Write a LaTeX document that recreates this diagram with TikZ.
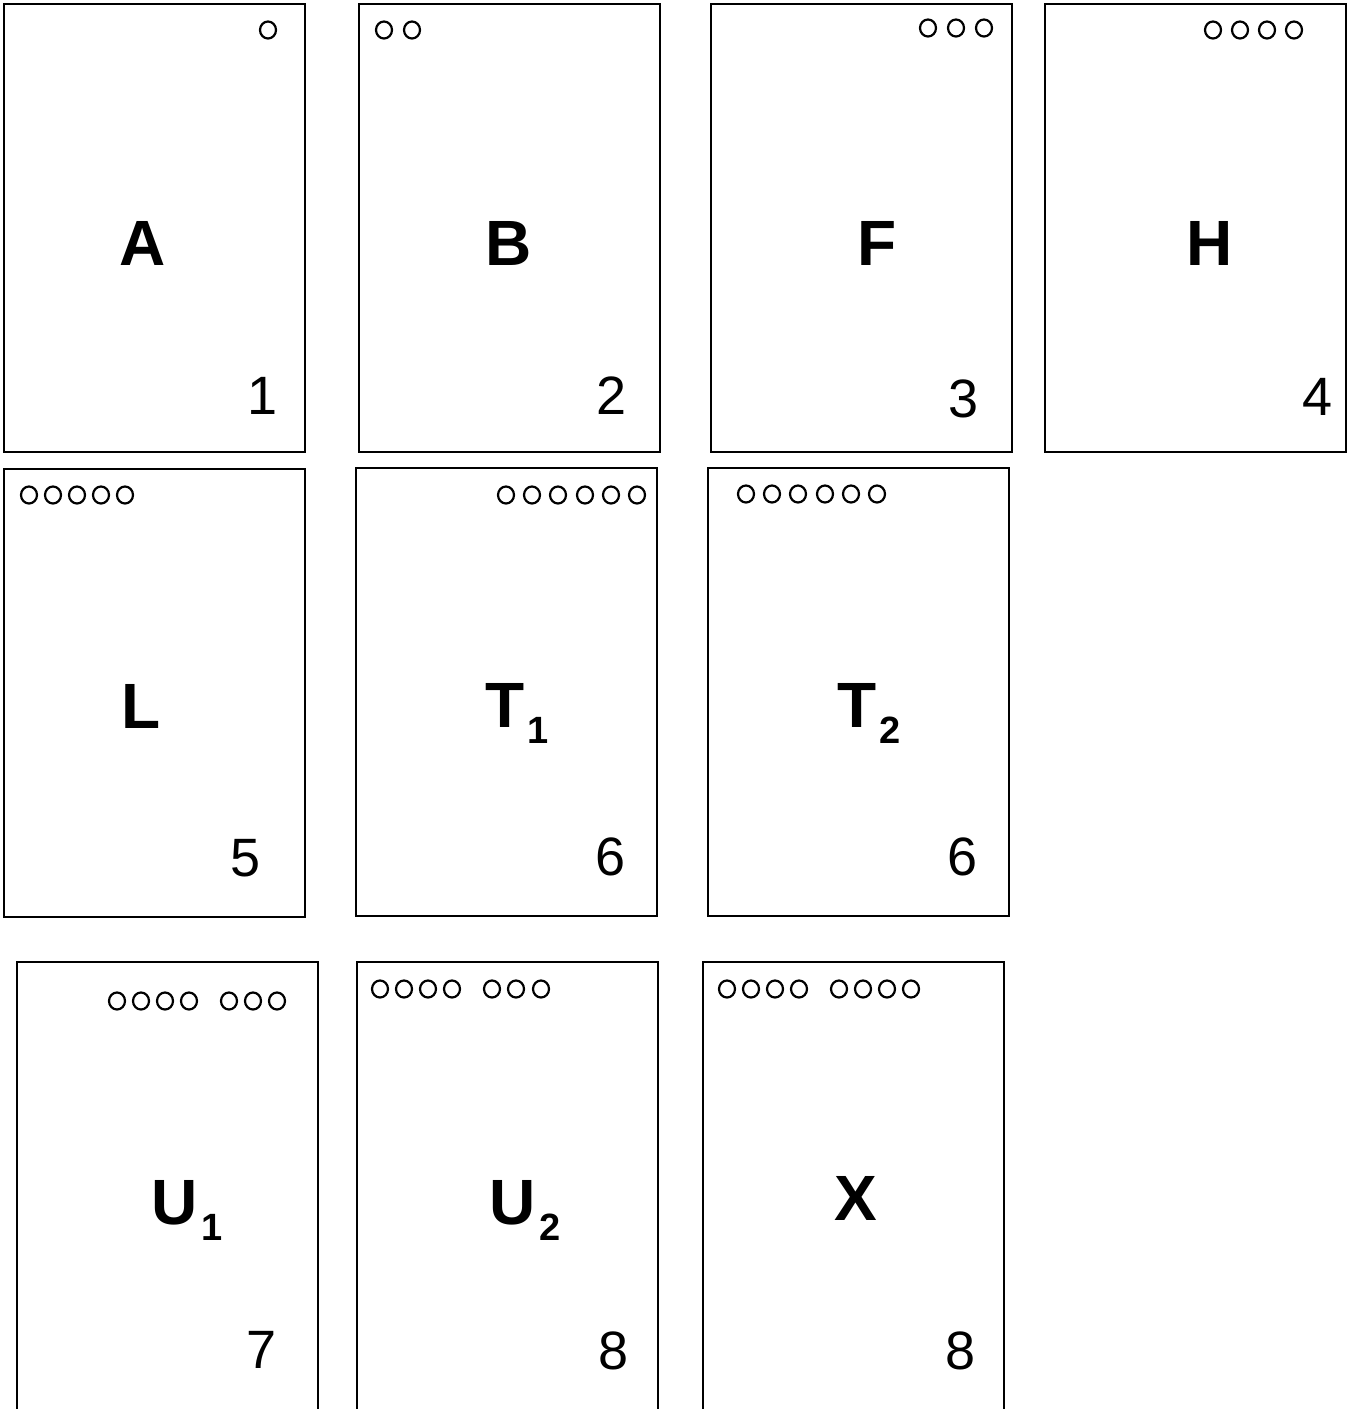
\documentclass[tikz,border=0pt]{standalone}
\usepackage{fontspec}
\setmainfont{Liberation Sans}
\newcommand{\mysubs}[1]{\kern3pt\raisebox{-0.26em}{\fontsize{38}{38}\selectfont #1}}
\newcommand{\myholes}[2]{\foreach \hx in {#1} {\draw[hole] (\hx,#2) ellipse [x radius=8, y radius=8.5];}}
\begin{document}
\begin{tikzpicture}[x=1pt,y=-1pt,
  card/.style={draw=black,line width=2pt,minimum width=301pt,minimum height=448pt,inner sep=0pt,outer sep=0pt},
  hole/.style={draw=black,line width=2.2pt},
  big/.style={anchor=base,inner sep=0pt,font=\fontsize{64}{64}\selectfont\bfseries},
  num/.style={anchor=base,inner sep=0pt,font=\fontsize{54}{54}\selectfont}]
\useasboundingbox (0,0) rectangle (1351,1409);
\clip (0,0) rectangle (1351,1409);
% row 1
\node[card] (cA) at (154.5,228) {};
\node[card] (cB) at (509.5,228) {};
\node[card] (cF) at (861.5,228) {};
\node[card] (cH) at (1195,228) {};
% row 2
\node[card] (cL) at (154.5,693) {};
\node[card] (cT1) at (506.5,691.5) {};
\node[card] (cT2) at (858.5,691.5) {};
% row 3
\node[card] (cU1) at (167.5,1186) {};
\node[card] (cU2) at (507,1186) {};
\node[card] (cX) at (853.5,1186) {};
% holes
\myholes{268}{30}
\myholes{384,412}{30}
\myholes{928,956,984}{28}
\myholes{1213,1240,1267,1294}{30}
\myholes{29,53,77,101,125}{495}
\myholes{506,532,558,585,611,637}{495}
\myholes{746,772,798,825,851,877}{494}
\myholes{117,141,165,189,229,253,277}{1001}
\myholes{380,404,428,452,492,516,541}{989}
\myholes{727,751,775,799,839,863,887,911}{989}
% letters
\node[big] (lA) at (143,265) {A};
\node[big] (lB) at (509,265) {B};
\node[big] (lF) at (877,265) {F};
\node[big] (lH) at (1210,265) {H};
\node[big] (lL) at (141,728) {L};
\node[big] (lT1) at (517,727) {T\mysubs{1}};
\node[big] (lT2) at (869,727) {T\mysubs{2}};
\node[big] (lU1) at (187,1224) {U\mysubs{1}};
\node[big] (lU2) at (525,1224) {U\mysubs{2}};
\node[big] (lX) at (856,1220) {X};
% numbers
\node[num] (n1) at (263,414) {1};
\node[num] (n2) at (612,414) {2};
\node[num] (n3) at (964,417) {3};
\node[num] (n4) at (1318,415) {4};
\node[num] (n5) at (246,876) {5};
\node[num] (n6a) at (611,875) {6};
\node[num] (n6b) at (963,875) {6};
\node[num] (n7) at (262,1368) {7};
\node[num] (n8a) at (614,1369) {8};
\node[num] (n8b) at (961,1369) {8};
\end{tikzpicture}
\end{document}
